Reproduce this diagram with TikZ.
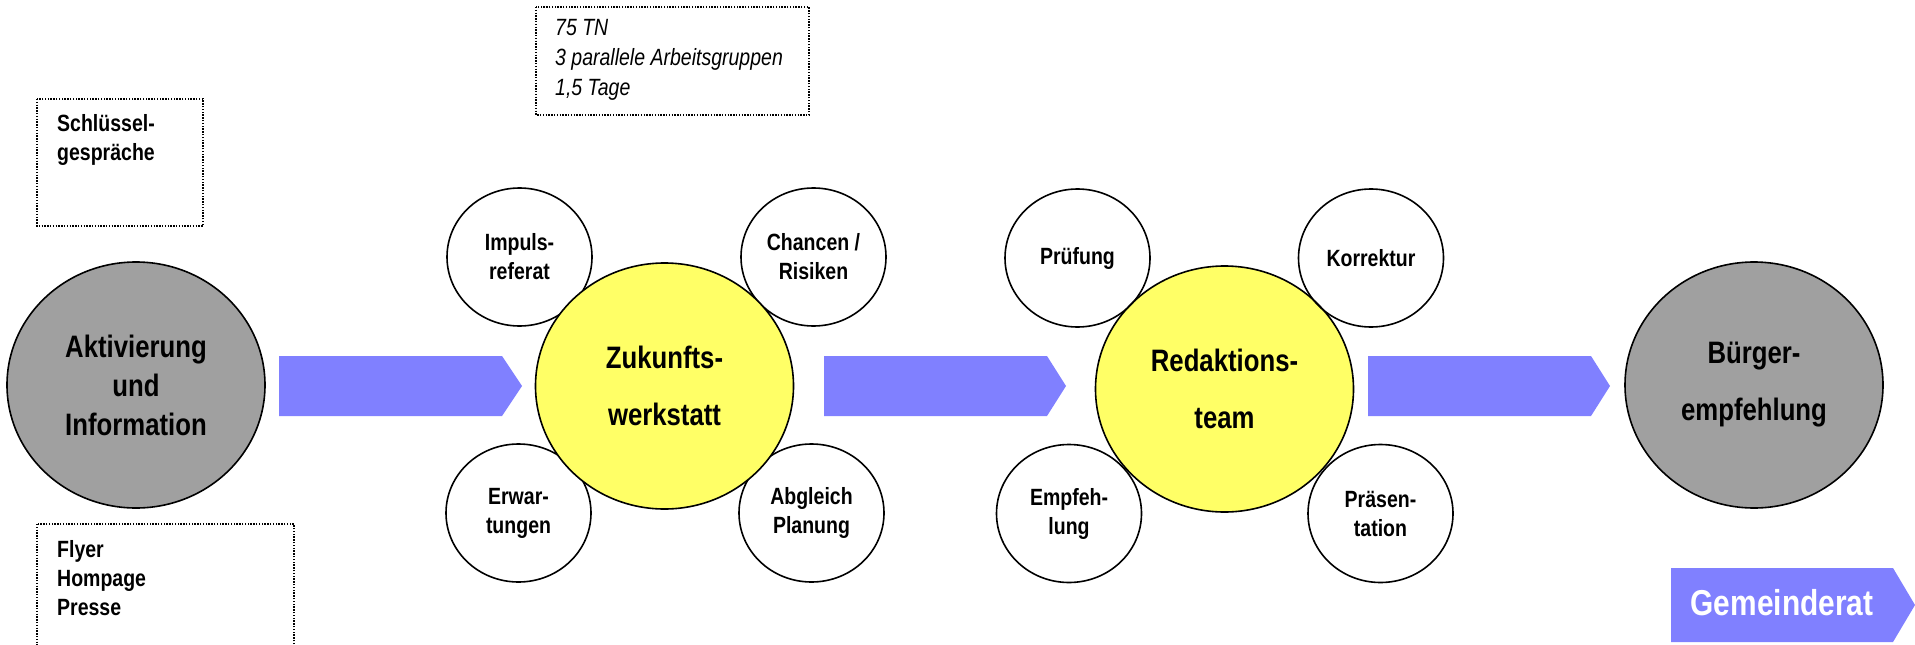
\documentclass[tikz,border=0pt]{standalone}
\usepackage{fontspec}
\setmainfont{Liberation Sans}[FakeStretch=0.83]
\usetikzlibrary{shapes.geometric}

\begin{document}
\begin{tikzpicture}[x=1pt,y=-1pt,
  bigball/.style={ellipse,draw=black,line width=1.6pt,inner sep=0pt,minimum width=258,minimum height=246,align=center,font=\bfseries\fontsize{31}{57}\selectfont},
  smallball/.style={ellipse,draw=black,line width=1.6pt,inner sep=0pt,minimum width=145,minimum height=138,align=center,font=\bfseries\fontsize{23.5}{29}\selectfont},
  notebox/.style={draw=black,line width=1.4pt,dash pattern=on 1.4pt off 1.4pt},
  notetext/.style={anchor=north west,inner sep=0pt,align=left,font=\bfseries\fontsize{23.5}{29}\selectfont},
  flowfill/.style={fill=flowColor}]
\definecolor{flowColor}{RGB}{128,128,255}
\definecolor{greyColor}{RGB}{160,160,160}
\definecolor{yellowColor}{RGB}{255,255,102}
\path[use as bounding box,fill=white] (0,0) rectangle (1915,645);

\draw[notebox] (37,99) rectangle (203,226);
\node[notetext] (keytalks) at (57,114) {Schlüssel-\\gespräche};
\draw[notebox] (536,7) rectangle (809,115);
\node[notetext,font=\itshape\fontsize{23.5}{30}\selectfont] (facts) at (555,19) {75 TN\\3 parallele Arbeitsgruppen\\1,5 Tage};
\draw[notebox] (37,524) rectangle (294,660);
\node[notetext] (media) at (57,540) {Flyer\\Hompage\\Presse};

\node[bigball,fill=greyColor,font=\bfseries\fontsize{31}{39}\selectfont] (activation) at (136,385) {Aktivierung\\und\\Information};

\path[flowfill] (279,356) -- (502,356) -- (522,386) -- (502,416) -- (279,416) -- cycle;

\node[smallball,fill=white] (talk) at (519.5,257) {Impuls-\\referat};
\node[smallball,fill=white] (chances) at (813.5,257) {Chancen /\\Risiken};
\node[smallball,fill=white] (expectations) at (518.5,513) {Erwar-\\tungen};
\node[smallball,fill=white] (matching) at (811.5,513) {Abgleich\\Planung};
\node[bigball,fill=yellowColor] (workshop) at (664.5,386) {Zukunfts-\\werkstatt};

\path[flowfill] (824,356) -- (1047,356) -- (1066,386) -- (1047,416) -- (824,416) -- cycle;

\node[bigball,fill=yellowColor] (editors) at (1224.5,389) {Redaktions-\\team};
\node[smallball] (check) at (1077.5,258) {Prüfung};
\node[smallball] (correction) at (1371,258) {Korrektur};
\node[smallball] (advice) at (1069,513.5) {Empfeh-\\lung};
\node[smallball] (presentation) at (1380.5,513.5) {Präsen-\\tation};

\path[flowfill] (1368,356) -- (1591,356) -- (1610,386) -- (1591,416) -- (1368,416) -- cycle;

\node[bigball,fill=greyColor] (recommendation) at (1754,385) {Bürger-\\empfehlung};

\path[flowfill] (1671,568) -- (1893,568) -- (1915,605) -- (1893,642) -- (1671,642) -- cycle;
\node[text=white,font=\bfseries\fontsize{36}{36}\selectfont] (council) at (1782,603) {Gemeinderat};
\end{tikzpicture}
\end{document}
